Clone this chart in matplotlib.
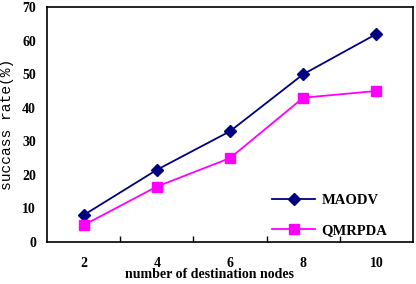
import matplotlib.pyplot as plt
import numpy as np

# Data
nodes = ["2", "4", "6", "8", "10"]
maodv = [8, 21.5, 33, 50, 62]
qmrpda = [5, 16.5, 25, 43, 45]

serif = "Liberation Serif"

fig = plt.figure(figsize=(4.16, 2.84), dpi=100)
ax = fig.add_axes([0.113, 0.148, 0.880, 0.827])

x = np.arange(len(nodes))
ax.plot(x, maodv, "-", color="#000080", marker="D", markersize=6, linewidth=1.3, label="MAODV")
ax.plot(x, qmrpda, "-", color="#FF00FF", marker="s", markersize=6.5, linewidth=1.3, label="QMRPDA")

ax.set_xlim(-0.5, len(nodes) - 0.5)
ax.set_ylim(0, 70)
ax.set_yticks(range(0, 71, 10))
ax.set_xticks(x)
ax.set_xticklabels(nodes)
ax.set_xticks(x[:-1] + 0.5, minor=True)

ax.tick_params(axis="x", which="major", length=0, pad=10.5)
ax.tick_params(axis="x", which="minor", direction="in", length=4, width=1)
ax.tick_params(axis="y", length=0, pad=8)
for lbl in ax.get_xticklabels() + ax.get_yticklabels():
    lbl.set_fontfamily(serif)
    lbl.set_fontweight("bold")
    lbl.set_fontsize(10)

for s in ax.spines.values():
    s.set_linewidth(1.2)

ax.set_xlabel("number of destination nodes", fontfamily=serif, fontweight="bold",
              fontsize=10, labelpad=0)
ax.xaxis.set_label_coords(0.444, -0.112)
ax.set_ylabel("succass rate(%)", fontfamily="Liberation Mono", fontsize=10.5, labelpad=6)

leg = ax.legend(loc="lower right", bbox_to_anchor=(0.965, -0.035), frameon=False,
                prop={"family": serif, "weight": "bold", "size": 10.5},
                labelspacing=1.15, handlelength=3, handletextpad=0.4)

fig.savefig("out.png", dpi=100)
